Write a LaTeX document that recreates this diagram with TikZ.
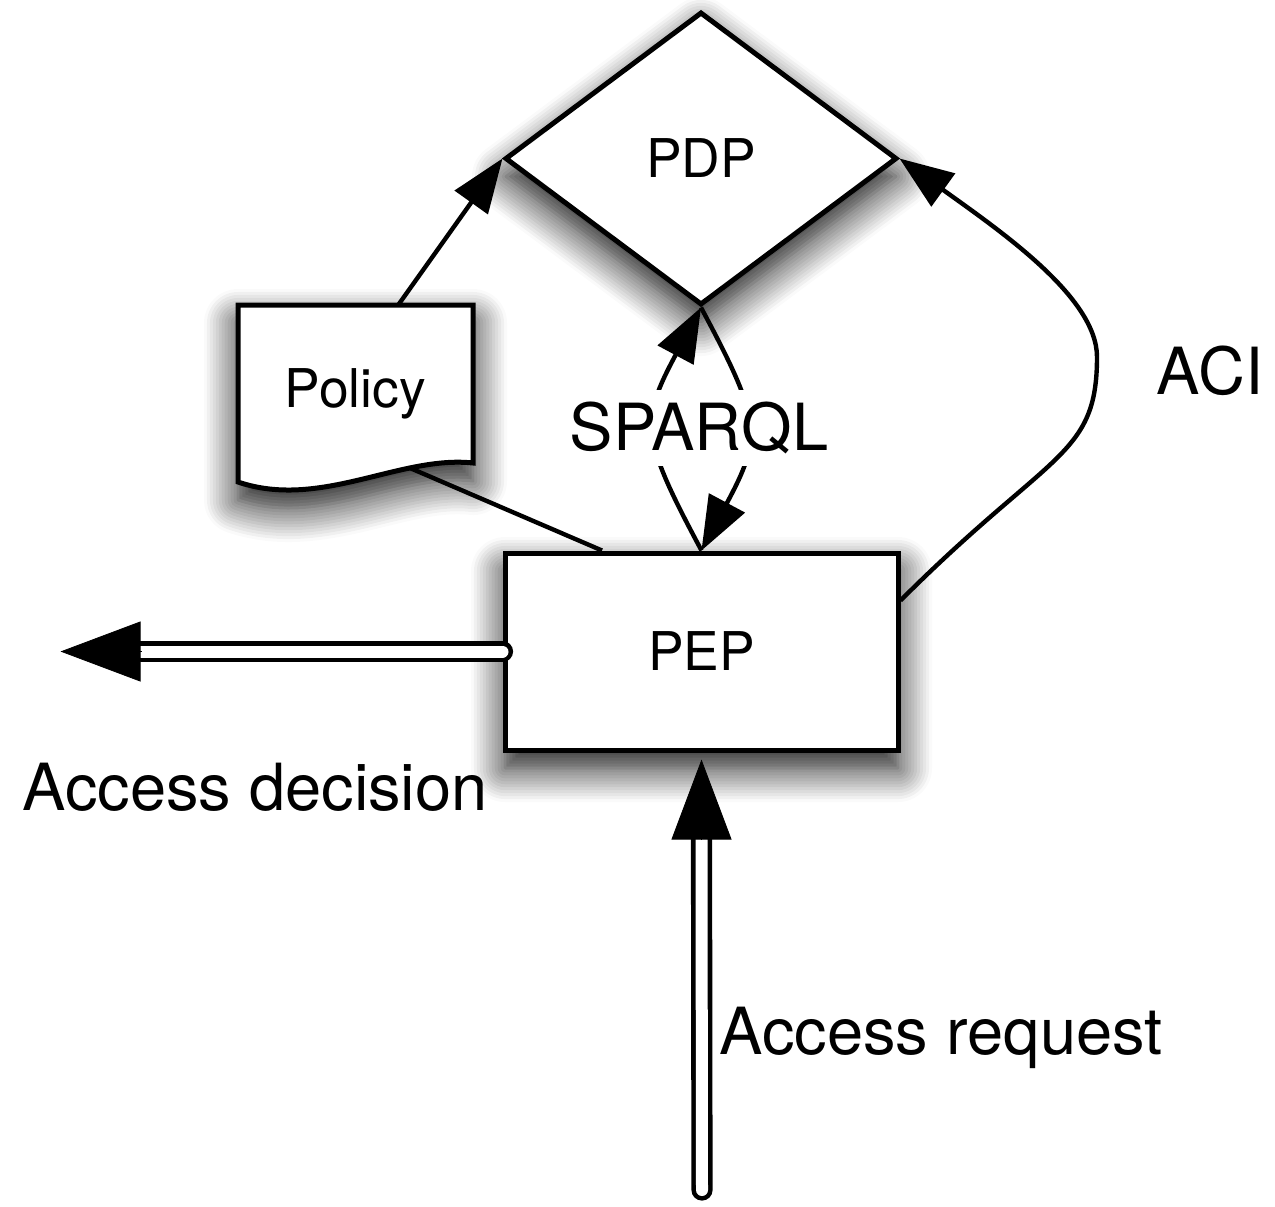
\documentclass[tikz,border=0pt]{standalone}
\usepackage{fontspec}
\setmainfont{TeX Gyre Heros}
\usetikzlibrary{shapes.geometric, arrows.meta, calc, shadows.blur}

\tikzset{
  softshadow/.style={blur shadow={shadow xshift=0pt, shadow yshift=-9pt, shadow blur radius=17pt, shadow blur steps=12, shadow opacity=95}},
  outline/.style={draw, line width=2.5pt, fill=white},
  nodefont/.style={font=\fontsize{26.7}{32}\selectfont},
  labelfont/.style={font=\fontsize{32.5}{38}\selectfont},
  conn/.style={line width=2.2pt, opacity=1, -{Triangle[length=27pt,width=20pt,fill=black]}},
  plainconn/.style={line width=2.2pt},
  shaft/.style={line width=2.3pt, double=white, double distance=6pt, line cap=round},
  bighead/.style={line width=0.4pt, opacity=1, -{Triangle[length=40pt,width=30pt,fill=black]}},
}

\begin{document}
\begin{tikzpicture}[x=0.5pt,y=0.5pt,yscale=-1,xscale=1]
    \useasboundingbox (0,0) rectangle (1275,1206);

    % Text Node
    \node[outline, softshadow, nodefont, diamond, inner sep=0pt, minimum width=196pt, minimum height=146.5pt] (pdp) at (701,158.5) {PDP};
    % Text Node
    \node[outline, softshadow, nodefont, inner sep=0pt, minimum width=196.5pt, minimum height=98.5pt] (pep) at (701.5,651.5) {PEP};
    % Document Shape
    \draw[outline, softshadow] (238,305) -- (473,305) -- (473,463) .. controls (400,455) and (320,510) .. (238,482) -- cycle;
    \coordinate (policy wave) at (410,468);
    \node[nodefont, inner sep=0pt, minimum width=117.5pt, minimum height=88.5pt] (policy) at (355.5,393.5) {Policy};

    %Straight Lines
    \draw[conn] ($(policy.north)+(43,0)$) -- (pdp.west);
    \draw[plainconn] (policy wave) -- ($(pep.north west)!0.25!(pep.north east)$);

    %Curve Lines
    \draw[conn] (pep.north) .. controls +(-61,-114) and +(-61,114) .. (pdp.south);
    \draw[conn] (pdp.south) .. controls +(61,114) and +(61,-114) .. (pep.north);
    \node[labelfont, fill=white, inner xsep=2pt, inner ysep=6pt] (sparql) at (699,428) {SPARQL};

    \coordinate (aci bend) at (1097,357);
    \draw[conn] ($(pep.east)+(0,-51)$) .. controls +(150,-150) and +(0,100) .. (aci bend) .. controls +(0,-60) and +(100,72) .. (pdp.east);
    \node[labelfont] (aci) at (1210,371) {ACI};

    %Double Arrows
    \draw[shaft] (pep.west) -- ($(pep.west)+(-361,0)$);
    \draw[bighead] ($(pep.west)+(-361,0)$) -- ($(pep.west)+(-442,0)$);
    \node[labelfont] (decision) at (255,787) {Access decision};

    \coordinate (request start) at (702,1190);
    \draw[shaft] (request start) -- ($(pep.south)+(0,87)$);
    \draw[bighead] ($(pep.south)+(0,87)$) -- ($(pep.south)+(0,7)$);
    \node[labelfont] (request) at (941,1038) {Access request};

\end{tikzpicture}
\end{document}
